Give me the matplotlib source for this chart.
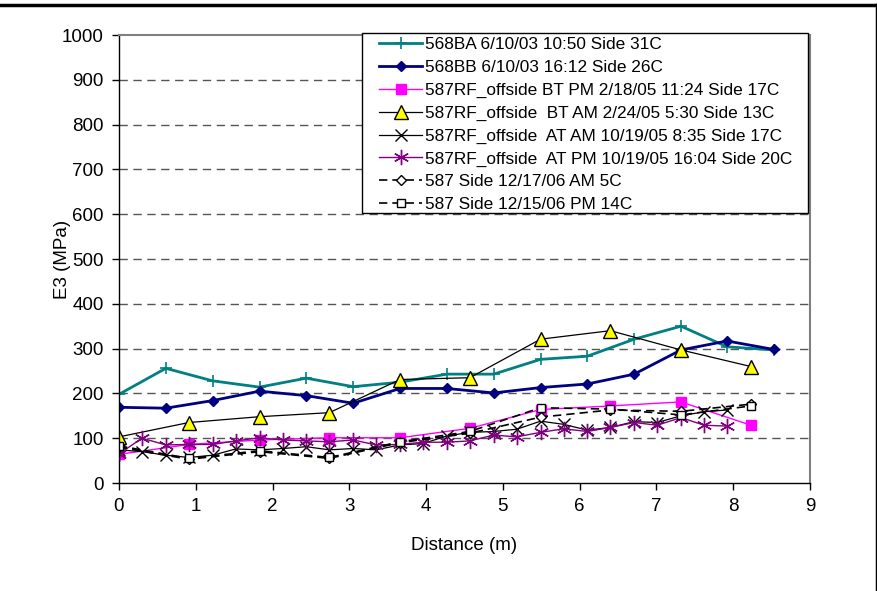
import matplotlib
matplotlib.use("Agg")
import matplotlib.pyplot as plt
from matplotlib.lines import Line2D
from matplotlib.patches import Rectangle

plt.rcParams['font.family'] = ['Liberation Sans', 'DejaVu Sans']

# ---- data ----
x_2ft = [0, 0.61, 1.22, 1.83, 2.44, 3.05, 3.66, 4.27, 4.88, 5.49, 6.10, 6.71, 7.32, 7.92, 8.53]
x_3ft = [0, 0.91, 1.83, 2.74, 3.66, 4.57, 5.49, 6.40, 7.32, 8.23]
x_1ft = [0, 0.30, 0.61, 0.91, 1.22, 1.52, 1.83, 2.13, 2.44, 2.74, 3.05, 3.35, 3.66, 3.96,
         4.27, 4.57, 4.88, 5.18, 5.49, 5.79, 6.10, 6.40, 6.71, 7.01, 7.32, 7.62, 7.92]

ba_568 = [198, 256, 228, 214, 234, 215, 225, 243, 243, 276, 283, 321, 350, 304, 297]
bb_568 = [169, 167, 184, 205, 195, 178, 211, 211, 201, 213, 221, 243, 297, 317, 298]
bt_pm = [64, 86, 96, 101, 101, 122, 164, 172, 181, 129]
bt_am = [103, 135, 148, 157, 231, 235, 321, 340, 297, 260]
at_am = [74, 70, 62, 57, 62, 76, 74, 77, 81, 74, 77, 74, 85, 88, 105, 113, 115, 120, 138,
         131, 118, 124, 137, 135, 150, 159, 163]
at_pm = [65, 100, 85, 86, 86, 94, 101, 96, 94, 92, 96, 85, 86, 91, 91, 94, 107, 103, 113,
         121, 115, 124, 135, 129, 146, 129, 127]
side_1217 = [80, 53, 70, 55, 90, 111, 147, 163, 160, 176]
side_1215 = [83, 55, 72, 57, 92, 115, 168, 165, 152, 172]

labels = ["568BA 6/10/03 10:50 Side 31C",
          "568BB 6/10/03 16:12 Side 26C",
          "587RF_offside BT PM 2/18/05 11:24 Side 17C",
          "587RF_offside  BT AM 2/24/05 5:30 Side 13C",
          "587RF_offside  AT AM 10/19/05 8:35 Side 17C",
          "587RF_offside  AT PM 10/19/05 16:04 Side 20C",
          "587 Side 12/17/06 AM 5C",
          "587 Side 12/15/06 PM 14C"]
xticks = [0, 1, 2, 3, 4, 5, 6, 7, 8, 9]
yticks = [0, 100, 200, 300, 400, 500, 600, 700, 800, 900, 1000]

W, H = 878, 591
fig = plt.figure(figsize=(W / 100, H / 100), dpi=100)
ax = fig.add_axes([119 / W, 1 - 483 / H, (810 - 119) / W, (483 - 35) / H])

star = (6, 2, 0)
ax.plot(x_2ft, ba_568, color='#008080', lw=2, marker='+', ms=9, mew=1.2, label=labels[0])
ax.plot(x_2ft, bb_568, color='#000080', lw=2, marker='D', ms=5.5, label=labels[1])
ax.plot(x_3ft, bt_pm, color='#FF00FF', lw=1, marker='s', ms=7, label=labels[2])
ax.plot(x_3ft, bt_am, color='black', lw=0.9, marker='^', ms=10, mfc='#FFFF00', mec='black',
        mew=1, label=labels[3])
ax.plot(x_1ft, at_am, color='black', lw=0.9, marker='x', ms=8, mew=1, label=labels[4])
ax.plot(x_1ft, at_pm, color='#800080', lw=1, marker=star, ms=11, mew=1, label=labels[5])
ax.plot(x_3ft, side_1217, color='black', lw=1.2, ls=(0, (5, 3)), marker='D', ms=5,
        mfc='white', mec='black', mew=1, label=labels[6])
ax.plot(x_3ft, side_1215, color='black', lw=1.2, ls=(0, (5, 3)), marker='s', ms=6,
        mfc='white', mec='black', mew=1, label=labels[7])

ax.set_xlim(0, 9)
ax.set_ylim(0, 1000)
ax.set_xticks(xticks)
ax.set_yticks(yticks)
ax.tick_params(direction='out', length=5, width=1, labelsize=13.5, pad=6)
for y in yticks[1:-1]:
    ax.axhline(y, color='#555555', lw=1, ls=(0, (6, 4)), zorder=0.5)

for s in ['left', 'bottom']:
    ax.spines[s].set_color('black')
    ax.spines[s].set_linewidth(1)
for s in ['top', 'right']:
    ax.spines[s].set_color('#808080')
    ax.spines[s].set_linewidth(1.5)

ax.set_xlabel("Distance (m)", fontsize=13.5)
ax.set_ylabel("E3 (MPa)", fontsize=13.5)
ax.xaxis.set_label_coords(0.5, (483 - 545) / 448, transform=ax.transAxes)
ax.yaxis.set_label_coords((63 - 119) / 691, 0.5, transform=ax.transAxes)
ax.xaxis.label.set_va('center')
ax.yaxis.label.set_va('center')

# legend frame drawn as a rectangle, legend itself frameless
frame = Rectangle((362 / W, 1 - 213 / H), (808 - 362) / W, (213 - 33) / H,
                  transform=fig.transFigure, facecolor='white', edgecolor='black',
                  lw=1, zorder=4.9, clip_on=False)
ax.add_patch(frame)
leg = ax.legend(loc='upper left', bbox_to_anchor=(379 / W, 1 - 37 / H),
                bbox_transform=fig.transFigure, fontsize=12.4, frameon=False,
                handlelength=2.5, handletextpad=0.17, labelspacing=0.45, borderpad=0,
                borderaxespad=0)
leg.set_zorder(5)

# outer figure border (top and right)
fig.add_artist(Line2D([0, 877 / W], [1 - 5 / H, 1 - 5 / H], color='black', lw=2.5,
                      transform=fig.transFigure))
fig.add_artist(Line2D([877 / W, 877 / W], [1 - 5 / H, 0], color='black', lw=2.5,
                      transform=fig.transFigure))

fig.savefig("out.png", dpi=100)
